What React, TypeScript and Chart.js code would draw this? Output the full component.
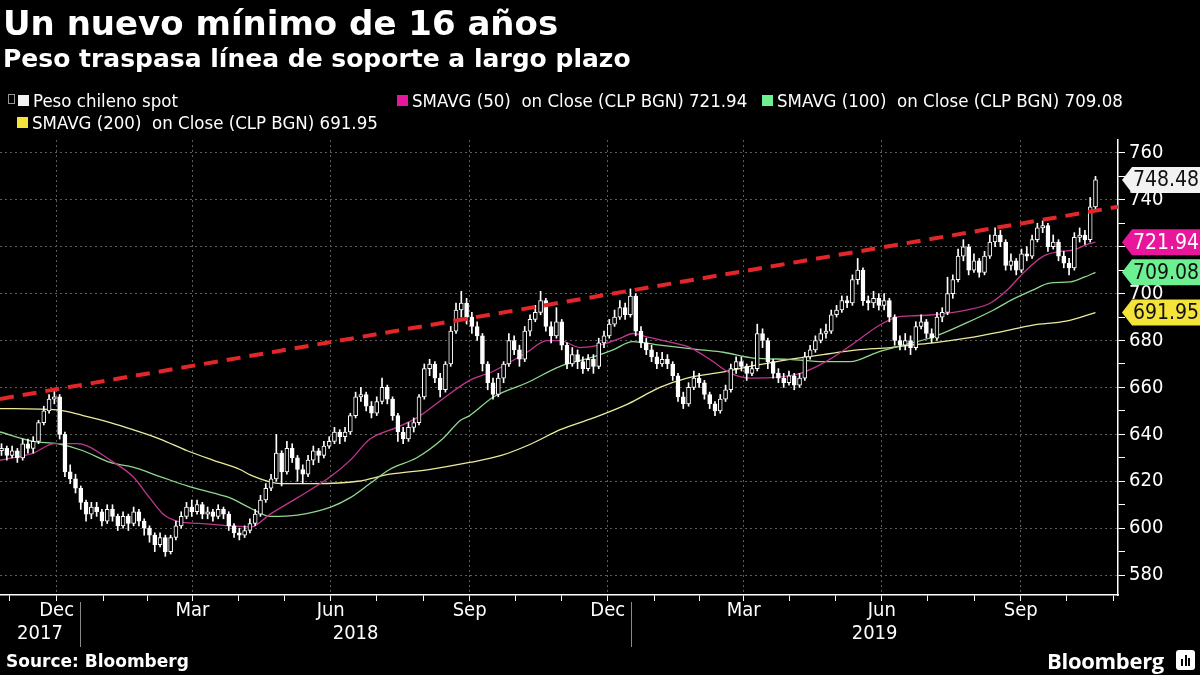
import React, { useEffect, useRef } from 'react';
import { Chart, registerables } from 'chart.js';

Chart.register(...registerables);

const FONT = '"DejaVu Sans Condensed", "DejaVu Sans", Verdana, sans-serif';
const FONT_BOLD = '"DejaVu Sans", Verdana, sans-serif';

// Day offsets are counted from 2017-11-01.
const ORIGIN = Date.UTC(2017, 10, 1);
const dayOf = (y: number, m: number, d: number) => (Date.UTC(y, m - 1, d) - ORIGIN) / 86400000;

// ---- Candles (one per half week, first one on 2017-11-10) ----
const firstOpen = 633;
const closes = [
  634, 631, 633, 630, 636, 634, 637, 645, 650, 655,
  656, 640, 624, 621, 617, 611, 606, 609, 607, 603,
  608, 605, 601, 605, 602, 607, 603, 600, 597, 593,
  596, 590, 596, 601, 605, 609, 607, 610, 606, 607,
  605, 608, 606, 601, 598, 597, 599, 602, 606, 612,
  617, 621, 632, 624, 634, 630, 625, 623, 629, 633,
  631, 635, 637, 641, 639, 641, 648, 656, 657, 652,
  649, 654, 660, 655, 648, 641, 638, 643, 645, 656,
  668, 670, 664, 659, 670, 684, 693, 696, 690, 686,
  682, 670, 662, 657, 664, 670, 680, 676, 672, 684,
  689, 692, 697, 686, 682, 688, 678, 670, 674, 671,
  668, 672, 669, 679, 682, 687, 690, 694, 691, 699,
  684, 679, 676, 673, 670, 672, 670, 665, 656, 653,
  660, 664, 662, 657, 653, 650, 655, 659, 668, 671,
  669, 666, 668, 683, 680, 671, 666, 664, 662, 665,
  661, 664, 673, 676, 680, 683, 684, 691, 693, 697,
  696, 706, 710, 697, 696, 698, 695, 697, 690, 680,
  678, 680, 677, 686, 688, 683, 681, 690, 692, 700,
  706, 716, 720, 710, 714, 709, 716, 722, 725, 722,
  712, 714, 710, 717, 716, 723, 728, 729, 720, 722,
  716, 713, 711, 724, 725, 723, 737, 748.48,
];
const highs = [
  636, 635, 635, 634, 638, 638, 639, 646, 652, 657,
  659, 657, 641, 627, 623, 618, 612, 611, 611, 608,
  610, 610, 606, 607, 606, 609, 608, 604, 601, 598,
  598, 597, 597, 603, 607, 611, 612, 612, 611, 609,
  608, 610, 609, 607, 602, 600, 601, 604, 608, 614,
  619, 623, 640, 633, 637, 636, 631, 627, 631, 635,
  634, 637, 639, 643, 642, 643, 649, 658, 660, 658,
  654, 656, 664, 661, 656, 649, 643, 645, 647, 657,
  670, 672, 671, 666, 671, 686, 696, 701, 698, 692,
  688, 683, 671, 664, 666, 671, 683, 682, 678, 686,
  691, 695, 701, 698, 688, 694, 689, 679, 677, 676,
  673, 674, 674, 681, 684, 689, 693, 697, 696, 702,
  700, 686, 681, 678, 675, 675, 674, 671, 666, 658,
  662, 667, 666, 663, 658, 654, 657, 661, 670, 673,
  673, 670, 671, 687, 685, 681, 672, 668, 666, 667,
  666, 666, 675, 678, 682, 685, 687, 693, 695, 699,
  699, 708, 715, 711, 699, 701, 700, 700, 698, 691,
  682, 683, 682, 688, 691, 689, 685, 692, 694, 707,
  708, 719, 723, 721, 717, 715, 718, 725, 728, 727,
  723, 717, 715, 719, 720, 725, 730, 731, 730, 725,
  723, 718, 715, 726, 728, 727, 741, 750,
];
const lows = [
  631, 629, 630, 628, 629, 632, 632, 636, 644, 649,
  653, 638, 622, 619, 615, 608, 603, 604, 605, 601,
  602, 603, 599, 600, 599, 601, 601, 597, 594, 590,
  592, 588, 589, 595, 600, 604, 605, 606, 604, 604,
  603, 604, 604, 599, 596, 595, 596, 598, 601, 605,
  611, 616, 620, 618, 623, 628, 620, 619, 622, 627,
  628, 630, 634, 636, 636, 637, 640, 647, 654, 650,
  647, 648, 653, 653, 646, 637, 636, 637, 641, 644,
  655, 665, 662, 656, 658, 669, 683, 690, 687, 683,
  680, 667, 659, 655, 656, 662, 669, 674, 669, 671,
  682, 688, 691, 684, 679, 681, 676, 668, 669, 668,
  666, 667, 666, 668, 677, 681, 686, 689, 689, 690,
  682, 677, 674, 671, 668, 669, 668, 663, 654, 651,
  652, 659, 660, 655, 651, 648, 649, 654, 658, 666,
  667, 663, 665, 667, 677, 668, 664, 662, 660, 661,
  659, 660, 663, 672, 675, 679, 681, 683, 690, 692,
  694, 695, 704, 695, 693, 694, 693, 693, 688, 678,
  676, 676, 674, 676, 685, 681, 679, 680, 688, 691,
  698, 705, 714, 708, 709, 707, 708, 715, 720, 720,
  710, 710, 708, 709, 714, 715, 722, 726, 718, 719,
  714, 711, 708, 710, 722, 721, 722, 735,
];
const candleFirstDay = 9;
const candleStepDays = 3.5;

// ---- Moving averages ----
const sma50Days = [8, 30, 44, 59, 66, 81, 96, 107, 116, 125, 140, 160, 174, 187, 205, 227, 240, 253, 271, 284, 301, 319, 335, 357, 370, 379, 392, 405, 419, 427, 437, 454, 465, 478, 492, 505, 525, 538, 549, 560, 576, 589, 602, 611, 626, 648, 664, 675, 686, 699, 710, 719, 728, 733.5];
const sma50 = [629, 632, 636, 636, 635, 629, 622, 613, 606, 603, 602, 601, 600.5, 606, 613, 622, 629, 638, 643, 647, 655, 663, 667, 675, 680, 680, 677, 678, 681, 683, 681.5, 679, 677, 672, 666, 664, 664.5, 666, 669, 673, 680, 686, 690, 690.5, 691, 693, 696, 701.5, 709, 716, 718, 718.6, 721, 721.94];
const sma100Days = [8, 30, 46, 63, 81, 96, 114, 132, 149, 160, 174, 187, 205, 227, 240, 253, 266, 284, 301, 313, 319, 335, 357, 379, 401, 414, 427, 445, 472, 487, 507, 531, 553, 571, 589, 606, 626, 648, 666, 677, 692, 703, 717, 726, 733.5];
const sma100 = [641, 637, 636, 633, 628, 626, 622, 618, 615, 613, 608.5, 605, 605.6, 609, 613, 619, 625, 630, 638, 646, 648, 656, 662, 669, 673, 676, 679.5, 678, 676, 675, 672.5, 672, 671, 671, 675, 678, 681.5, 687.5, 693, 697, 701.5, 704.5, 705, 707, 709.08];
const sma200Days = [8, 46, 63, 81, 96, 114, 132, 149, 167, 174, 194, 216, 245, 266, 292, 319, 340, 360, 379, 401, 424, 445, 463, 487, 509, 531, 553, 576, 598, 611, 626, 648, 670, 692, 714, 733.5];
const sma200 = [651, 650.4, 648, 645, 642, 638, 633, 629, 625, 622.6, 619, 619, 620, 623, 625, 628, 631, 636, 642, 647, 653, 660, 664, 666.6, 669.5, 672, 674, 676, 677, 678, 679, 681, 683.6, 686.6, 688.3, 691.95];

// ---- Support line ----
const trendDays = [8, 748.4];
const trendValues = [655.1, 737];

// ---- Axis ----
const xMinDay = 8;
const xMaxDay = 748.4;
const yMin = 571.5;
const yMax = 765.5;
const yTickValues = [580, 590, 600, 610, 620, 630, 640, 650, 660, 670, 680, 690, 700, 710, 720, 730, 740, 750, 760];
const monthNames = ['Jan', 'Feb', 'Mar', 'Apr', 'May', 'Jun', 'Jul', 'Aug', 'Sep', 'Oct', 'Nov', 'Dec'];
const labelledMonths = ['Dec', 'Mar', 'Jun', 'Sep'];
const years = ['2017', '2018', '2019'];

// ---- Last values and colours ----
const lastSpot = 748.48;
const lastSma50 = 721.94;
const lastSma100 = 709.08;
const lastSma200 = 691.95;

const COL_SMA50 = '#c2358f';
const COL_SMA100 = '#8fd88f';
const COL_SMA200 = '#ebeb9c';
const TAG_SMA50 = '#e8169a';
const TAG_SMA100 = '#6cf092';
const TAG_SMA200 = '#f4e43a';

const monthStarts: { day: number; m: number; y: number }[] = [];
for (let y = 2017; y <= 2020; y++) {
  for (let m = 1; m <= 12; m++) {
    const d = dayOf(y, m, 1);
    if (d >= xMinDay && d <= xMaxDay) monthStarts.push({ day: d, m, y });
  }
}

export default function App() {
  const ref = useRef<HTMLCanvasElement | null>(null);

  useEffect(() => {
    document.body.style.margin = '0';
    document.body.style.background = '#000';
    if (!ref.current) return;

    const opens = closes.map((_, i) => (i === 0 ? firstOpen : closes[i - 1]));
    const days = closes.map((_, i) => candleFirstDay + i * candleStepDays);
    const up = closes.map((c, i) => c >= opens[i]);

    const bodies = closes.map((c, i) => ({ x: days[i], y: [Math.min(c, opens[i]), Math.max(c, opens[i])] }));
    const wicks = closes.map((_, i) => ({ x: days[i], y: [lows[i], highs[i]] }));
    const toPts = (xs: number[], ys: number[]) => xs.map((x, i) => ({ x, y: ys[i] }));

    const quarterDays = new Set(monthStarts.filter((s) => (s.m - 1) % 3 === 0).map((s) => s.day));

    const axisLabels = {
      id: 'axisLabels',
      afterDraw(chart: any) {
        const { ctx, scales } = chart;
        const xs = scales.x;
        const area = chart.chartArea;
        ctx.save();
        ctx.fillStyle = '#fff';
        ctx.font = `20px ${FONT}`;
        ctx.textAlign = 'center';
        ctx.textBaseline = 'middle';
        const all: { day: number; m: number; y: number }[] = [];
        for (let y = 2017; y <= 2019; y++) for (let m = 1; m <= 12; m++) all.push({ day: dayOf(y, m, 1), m, y });
        all.forEach((s) => {
          const name = monthNames[s.m - 1];
          if (!labelledMonths.includes(name)) return;
          const end = s.m === 12 ? dayOf(s.y + 1, 1, 1) : dayOf(s.y, s.m + 1, 1);
          const mid = (s.day + end) / 2;
          if (mid < xMinDay || mid > xMaxDay) return;
          ctx.fillText(name, xs.getPixelForValue(mid), area.bottom + 16);
        });
        const y18 = xs.getPixelForValue(dayOf(2018, 1, 1));
        const y19 = xs.getPixelForValue(dayOf(2019, 1, 1));
        const bounds = [area.left, y18, y19, area.right];
        years.forEach((t, i) => {
          ctx.fillText(t, (bounds[i] + bounds[i + 1]) / 2, area.bottom + 39);
        });
        ctx.strokeStyle = '#8a8a8a';
        ctx.lineWidth = 1;
        [y18, y19].forEach((px) => {
          ctx.beginPath();
          ctx.moveTo(Math.round(px) + 0.5, area.bottom + 7);
          ctx.lineTo(Math.round(px) + 0.5, area.bottom + 52);
          ctx.stroke();
        });
        const ys = scales.y;
        const tags = [
          { v: lastSpot, bg: '#f2f2f2', fg: '#111' },
          { v: lastSma50, bg: TAG_SMA50, fg: '#fff' },
          { v: lastSma100, bg: TAG_SMA100, fg: '#111' },
          { v: lastSma200, bg: TAG_SMA200, fg: '#111' },
        ];
        ctx.textAlign = 'left';
        ctx.font = `21px ${FONT}`;
        tags.forEach((t) => {
          const py = ys.getPixelForValue(t.v);
          const x0 = area.right + 4;
          const h = 13;
          ctx.fillStyle = t.bg;
          ctx.beginPath();
          ctx.moveTo(x0, py);
          ctx.lineTo(x0 + 10, py - h);
          ctx.lineTo(1200, py - h);
          ctx.lineTo(1200, py + h);
          ctx.lineTo(x0 + 10, py + h);
          ctx.closePath();
          ctx.fill();
          ctx.fillStyle = t.fg;
          ctx.fillText(t.v.toFixed(2), x0 + 11, py + 1);
        });
        ctx.restore();
      },
    };

    const chart = new Chart(ref.current, {
      type: 'bar',
      data: {
        datasets: [
          {
            type: 'line',
            data: toPts(trendDays, trendValues),
            borderColor: '#e3262a',
            borderWidth: 4,
            borderDash: [14, 9],
            pointRadius: 0,
            order: 0,
          } as any,
          {
            type: 'bar',
            data: bodies as any,
            backgroundColor: (c: any) => (up[c.dataIndex] ? '#000' : '#fff'),
            borderColor: '#fff',
            borderWidth: 1,
            borderSkipped: false,
            barThickness: 4,
            minBarLength: 1,
            grouped: false,
            order: 1,
          } as any,
          {
            type: 'bar',
            data: wicks as any,
            backgroundColor: '#fff',
            borderWidth: 0,
            barThickness: 1,
            grouped: false,
            order: 2,
          } as any,
          {
            type: 'line',
            data: toPts(sma50Days, sma50),
            borderColor: COL_SMA50,
            borderWidth: 1.3,
            pointRadius: 0,
            cubicInterpolationMode: 'monotone',
            order: 3,
          } as any,
          {
            type: 'line',
            data: toPts(sma100Days, sma100),
            borderColor: COL_SMA100,
            borderWidth: 1.3,
            pointRadius: 0,
            cubicInterpolationMode: 'monotone',
            order: 3,
          } as any,
          {
            type: 'line',
            data: toPts(sma200Days, sma200),
            borderColor: COL_SMA200,
            borderWidth: 1.3,
            pointRadius: 0,
            cubicInterpolationMode: 'monotone',
            order: 3,
          } as any,
        ],
      },
      options: {
        responsive: false,
        animation: false,
        events: [],
        layout: { padding: { top: 140, left: 0, right: 0, bottom: 0 } },
        plugins: { legend: { display: false }, tooltip: { enabled: false } },
        scales: {
          x: {
            type: 'linear',
            min: xMinDay,
            max: xMaxDay,
            offset: false,
            afterBuildTicks: (s: any) => {
              s.ticks = monthStarts.map((m) => ({ value: m.day }));
            },
            afterFit: (s: any) => {
              s.height = 80;
            },
            ticks: { display: false, autoSkip: false },
            grid: {
              color: (c: any) => (c.tick && quarterDays.has(c.tick.value) ? '#5c5c5c' : 'rgba(0,0,0,0)'),
              tickColor: '#fff',
              tickLength: 6,
              drawTicks: true,
            },
            border: { display: true, color: '#fff', width: 1.5, dash: [2, 3] },
          },
          y: {
            type: 'linear',
            position: 'right',
            min: yMin,
            max: yMax,
            afterBuildTicks: (s: any) => {
              s.ticks = yTickValues.map((v) => ({ value: v }));
            },
            afterFit: (s: any) => {
              s.width = 82;
            },
            ticks: {
              color: '#fff',
              font: { family: FONT, size: 20 },
              padding: 4,
              autoSkip: false,
              callback: (v: any) => (Number(v) % 20 === 0 ? String(v) : ''),
            },
            grid: {
              color: (c: any) => (c.tick && c.tick.value % 20 === 0 ? '#5c5c5c' : 'rgba(0,0,0,0)'),
              tickColor: '#fff',
              tickLength: 7,
            },
            border: { display: true, color: '#fff', width: 1.5, dash: [2, 3] },
          },
        },
      } as any,
      plugins: [axisLabels],
    });
    return () => chart.destroy();
  }, []);

  const sq = (c: string) => (
    <span style={{ display: 'inline-block', width: 11, height: 11, background: c, marginRight: 4, verticalAlign: 'middle', position: 'relative', top: -2 }} />
  );
  const legendText: React.CSSProperties = { position: 'absolute', fontFamily: FONT, fontSize: 18.5, color: '#fff', whiteSpace: 'nowrap', lineHeight: '20px' };

  return (
    <div style={{ position: 'fixed', left: 0, top: 0, width: 1200, height: 675, background: '#000', overflow: 'hidden' }}>
      <canvas ref={ref} width={1200} height={675} style={{ position: 'absolute', left: 0, top: 0, width: 1200, height: 675 }} />
      <div style={{ position: 'absolute', left: 3, top: 3, fontFamily: FONT_BOLD, fontWeight: 'bold', fontSize: 34, color: '#fff', whiteSpace: 'nowrap', lineHeight: '40px' }}>
        Un nuevo mínimo de 16 años
      </div>
      <div style={{ position: 'absolute', left: 3, top: 44, fontFamily: FONT_BOLD, fontWeight: 'bold', fontSize: 25, color: '#fff', whiteSpace: 'nowrap', lineHeight: '30px' }}>
        Peso traspasa línea de soporte a largo plazo
      </div>
      <div style={{ ...legendText, left: 8, top: 91 }}>
        <span style={{ display: 'inline-block', width: 5, height: 8, border: '1px solid #999', marginRight: 3, verticalAlign: 'middle', position: 'relative', top: -3 }} />
        {sq('#f2f2f2')}Peso chileno spot
      </div>
      <div style={{ ...legendText, left: 397, top: 91 }}>{sq(TAG_SMA50)}SMAVG (50)&nbsp; on Close (CLP BGN) 721.94</div>
      <div style={{ ...legendText, left: 762, top: 91 }}>{sq(TAG_SMA100)}SMAVG (100)&nbsp; on Close (CLP BGN) 709.08</div>
      <div style={{ ...legendText, left: 17, top: 113 }}>{sq(TAG_SMA200)}SMAVG (200)&nbsp; on Close (CLP BGN) 691.95</div>
      <div style={{ position: 'absolute', left: 6, top: 651, fontFamily: FONT_BOLD, fontWeight: 'bold', fontSize: 17, color: '#fff', whiteSpace: 'nowrap', lineHeight: '20px' }}>
        Source: Bloomberg
      </div>
      <div style={{ position: 'absolute', right: 36, top: 646, fontFamily: '"Open Sans", "DejaVu Sans", sans-serif', fontWeight: 'bold', fontSize: 22, color: '#fff', whiteSpace: 'nowrap', lineHeight: '28px', letterSpacing: -0.3 }}>
        Bloomberg
      </div>
      <div style={{ position: 'absolute', left: 1176, top: 650, width: 19, height: 20, background: '#fff', borderRadius: 3 }}>
        <div style={{ position: 'absolute', left: 5, top: 9, width: 2, height: 7, background: '#000' }} />
        <div style={{ position: 'absolute', left: 8.5, top: 5, width: 2, height: 11, background: '#000' }} />
        <div style={{ position: 'absolute', left: 12, top: 8, width: 2, height: 8, background: '#000' }} />
      </div>
    </div>
  );
}
